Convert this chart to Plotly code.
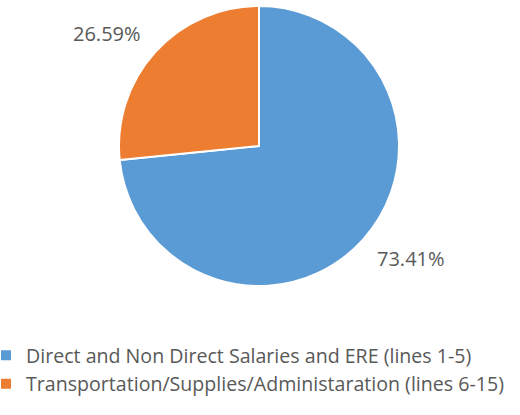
import math
import plotly.graph_objects as go

labels = ["Direct and Non Direct Salaries and ERE (lines 1-5)",
          "Transportation/Supplies/Administaration (lines 6-15)"]
values = [73.41, 26.59]
colors = ["#5B9BD5", "#ED7D31"]

W, H = 520, 415
CX, CY, R = 259, 146, 140   # pie centre / radius in pixels
LABEL_GAP = 16              # distance of label corner from slice edge
HALF_TEXT_H = 8
GREY = "#595959"
FONT = "Open Sans"

fig = go.Figure(go.Pie(
    labels=labels,
    values=values,
    marker=dict(colors=colors, line=dict(color="white", width=2)),
    sort=False,
    direction="clockwise",
    rotation=0,
    textinfo="none",
    domain=dict(x=[(CX - R) / W, (CX + R) / W],
                y=[1 - (CY + R) / H, 1 - (CY - R) / H]),
    hoverinfo="label+percent",
))

# percentage labels placed outside each slice, at its mid-angle
total = sum(values)
cum = 0.0
annotations = []
for v in values:
    mid = (cum + v / 2) / total * 2 * math.pi  # clockwise from top
    cum += v
    dx, dy = math.sin(mid), -math.cos(mid)     # screen direction (y down)
    px = CX + (R + LABEL_GAP) * dx
    py = CY + (R + LABEL_GAP) * dy + (HALF_TEXT_H if dy >= 0 else -HALF_TEXT_H)
    annotations.append(dict(
        x=px / W, y=1 - py / H, xref="paper", yref="paper",
        text=f"{v / total * 100:.2f}%", showarrow=False,
        xanchor="left" if dx >= 0 else "right",
        yanchor="middle",
        font=dict(family=FONT, size=20, color=GREY),
    ))

fig.update_layout(
    width=W, height=H,
    margin=dict(l=0, r=0, t=0, b=0, autoexpand=False),
    paper_bgcolor="white",
    font=dict(family=FONT, size=20, color=GREY),
    showlegend=True,
    annotations=annotations,
    legend=dict(x=-14 / W, y=1 - 336 / H, xanchor="left", yanchor="top",
                itemwidth=30,
                font=dict(family=FONT, size=19.6, color=GREY)),
)

fig.write_html("out.html", config={"displayModeBar": False},
               post_script="document.body.style.margin='0';")
